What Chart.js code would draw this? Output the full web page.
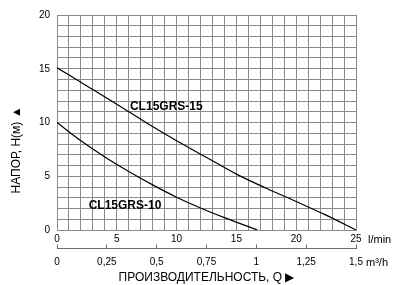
<!DOCTYPE html>
<html>
<head>
<meta charset="utf-8">
<script src="https://cdn.jsdelivr.net/npm/chart.js@4"></script>
<style>
  html, body { margin: 0; padding: 0; background: #fff; }
  #c { display: block; }
</style>
</head>
<body>
<canvas id="c" width="400" height="285"></canvas>
<script>
// ---- data ----
const flow15 = [0, 2.5, 5, 7.5, 10, 12.5, 15, 17.5, 20, 22.5, 25];
const head15 = [15.1, 13.4, 11.7, 9.95, 8.3, 6.75, 5.2, 3.88, 2.65, 1.38, 0];
const flow10 = [0, 2, 4, 6, 8, 10, 12, 14, 16.75];
const head10 = [10.0, 8.3, 6.8, 5.45, 4.2, 3.05, 2.05, 1.15, 0];
const seriesNames = ['CL15GRS-15', 'CL15GRS-10'];
const labelAnchors = [[6.1, 11.5], [2.65, 2.3]]; // data coords of curve labels (l/min, m)
const yLabels = [0, 5, 10, 15, 20];
const xLabels = [0, 5, 10, 15, 20, 25];
const x2Labels = ['0', '0,25', '0,5', '0,75', '1', '1,25', '1,5'];
const yTitle = 'НАПОР, H(м) ▲';
const xTitle = 'ПРОИЗВОДИТЕЛЬНОСТЬ, Q ▶';
const unitTop = 'l/min';
const unitBottom = 'm³/h';

Chart.defaults.font.family = '"Liberation Sans", Arial, Helvetica, sans-serif';
Chart.defaults.color = '#000';

const gridColor = '#8a8a8a';
const axisColor = '#6a6a6a';

const annot = {
  id: 'annot',
  afterDraw(chart) {
    const ctx = chart.ctx;
    const xs = chart.scales.x, ys = chart.scales.y, x2 = chart.scales.x2;
    ctx.save();
    ctx.fillStyle = '#000';
    // curve labels
    ctx.font = 'bold 12px "Liberation Sans", Arial, sans-serif';
    ctx.textAlign = 'left';
    ctx.textBaseline = 'middle';
    seriesNames.forEach((n, i) => {
      ctx.fillText(n, xs.getPixelForValue(labelAnchors[i][0]), ys.getPixelForValue(labelAnchors[i][1]));
    });
    // units
    ctx.font = '11px "Liberation Sans", Arial, sans-serif';
    ctx.fillText(unitTop, chart.chartArea.right + 12, xs.top + 9.5);
    ctx.fillText(unitBottom, chart.chartArea.right + 10, x2.top + 14);
    // y title
    ctx.font = '12px "Liberation Sans", Arial, sans-serif';
    ctx.translate(17, 150);
    ctx.rotate(-Math.PI / 2);
    ctx.textAlign = 'center';
    ctx.fillText(yTitle, 0, 0);
    ctx.restore();
  }
};

new Chart(document.getElementById('c'), {
  type: 'scatter',
  data: {
    datasets: [
      {
        label: seriesNames[0],
        data: flow15.map((q, i) => ({ x: q, y: head15[i] })),
        showLine: true, borderColor: '#000', borderWidth: 1.2, pointRadius: 0,
        cubicInterpolationMode: 'monotone', xAxisID: 'x', yAxisID: 'y'
      },
      {
        label: seriesNames[1],
        data: flow10.map((q, i) => ({ x: q, y: head10[i] })),
        showLine: true, borderColor: '#000', borderWidth: 1.2, pointRadius: 0,
        cubicInterpolationMode: 'monotone', xAxisID: 'x', yAxisID: 'y'
      }
    ]
  },
  options: {
    responsive: false,
    animation: false,
    devicePixelRatio: 1,
    layout: { padding: { left: 0, right: 44, top: 15, bottom: 0 } },
    plugins: { legend: { display: false }, tooltip: { enabled: false } },
    scales: {
      x: {
        type: 'linear', position: 'bottom', min: 0, max: 25,
        grid: { color: gridColor, lineWidth: 1, drawTicks: false },
        border: { color: gridColor },
        ticks: {
          stepSize: 1, autoSkip: false, maxRotation: 0, padding: 3.5,
          font: { size: 10 },
          callback: v => (xLabels.includes(v) ? String(v) : '')
        },
        afterFit: s => { s.height = 18.5; }
      },
      x2: {
        type: 'linear', position: 'bottom', min: 0, max: 1.5,
        grid: { display: true, drawOnChartArea: false, drawTicks: true, tickLength: -4, color: axisColor, lineWidth: 1 },
        border: { display: true, color: axisColor, width: 1 },
        ticks: {
          stepSize: 0.25, autoSkip: false, maxRotation: 0, padding: 12,
          font: { size: 10 },
          callback: (v, i) => x2Labels[i] !== undefined ? x2Labels[i] : ''
        },
        title: { display: true, text: xTitle, font: { size: 12 }, padding: { top: 0, bottom: 0 } },
        afterFit: s => { s.height = 36.5; }
      },
      y: {
        type: 'linear', position: 'left', min: 0, max: 20,
        grid: { color: gridColor, lineWidth: 1, drawTicks: false },
        border: { color: gridColor },
        ticks: {
          stepSize: 1, autoSkip: false, padding: 7,
          font: { size: 10 },
          callback: v => (yLabels.includes(v) ? String(v) : '')
        },
        afterFit: s => { s.width = 57; }
      }
    }
  },
  plugins: [annot]
});
</script>
</body>
</html>
